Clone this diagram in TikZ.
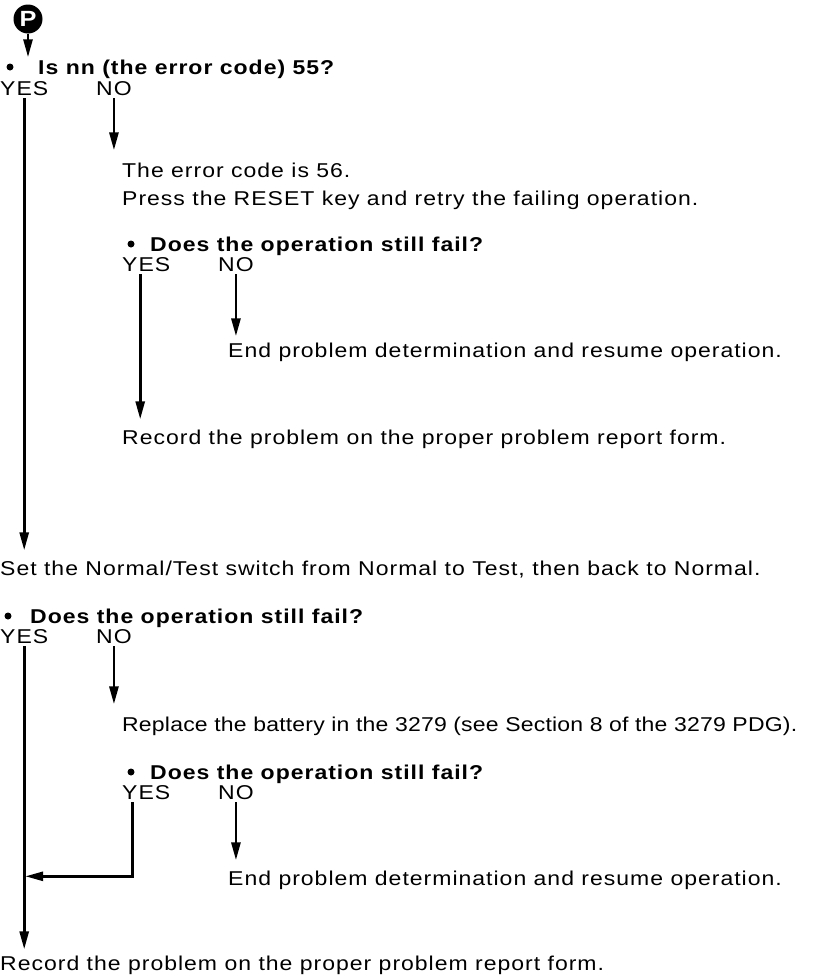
\documentclass[tikz,border=0pt]{standalone}
\usepackage{fontspec}
\setmainfont[FakeStretch=1.15,LetterSpace=5]{Liberation Sans}
\usepackage{tikz}
\usetikzlibrary{arrows.meta,positioning}

\begin{document}
\begin{tikzpicture}[
  x=1pt, y=-1pt,
  font=\fontsize{20}{24}\selectfont,
  txt/.style={anchor=base west, inner sep=0pt},
  ask/.style={txt, font=\fontsize{20}{24}\selectfont\bfseries},
  dot/.style={circle, fill=black, inner sep=0pt, minimum size=7pt},
  badge/.style={circle, fill=black, text=white, inner sep=0pt, minimum size=29pt, font=\fontsize{22}{22}\selectfont\bfseries},
  arr/.style={-{Triangle[length=18pt, width=9pt]}, line width=2.8pt},
]
\useasboundingbox (0,0) rectangle (816,977);

% entry point and first question
\node[badge] (pin) at (28,19) {P};
\node[dot] (d1) at (10,67) {};
\node[ask] (q1) at (38,74) {Is nn (the error code) 55?};
\node[txt] (yes1) at (0,95) {YES};
\node[txt] (no1)  at (96,95) {NO};

% NO branch: error code 56
\node[txt] (code56) at (122,177) {The error code is 56.};
\node[txt] (reset)  at (122,205) {Press the RESET key and retry the failing operation.};
\node[dot] (d2) at (131,244) {};
\node[ask] (q2) at (150,251) {Does the operation still fail?};
\node[txt] (yes2) at (122,271) {YES};
\node[txt] (no2)  at (218,271) {NO};
\node[txt] (end2) at (228,357) {End problem determination and resume operation.};
\node[txt] (rec2) at (122,444) {Record the problem on the proper problem report form.};

% switch test
\node[txt] (swtest) at (0,575) {Set the Normal/Test switch from Normal to Test, then back to Normal.};
\node[dot] (d3) at (8,616) {};
\node[ask] (q3) at (30,623) {Does the operation still fail?};
\node[txt] (yes3) at (0,643) {YES};
\node[txt] (no3)  at (96,643) {NO};

% battery
\node[txt, font=\fontsize{20}{24}\selectfont\addfontfeatures{LetterSpace=1}] (batt) at (122,731) {Replace the battery in the 3279 (see Section 8 of the 3279 PDG).};
\node[dot] (d4) at (131,772) {};
\node[ask] (q4) at (150,779) {Does the operation still fail?};
\node[txt] (yes4) at (122,799) {YES};
\node[txt] (no4)  at (218,799) {NO};
\node[txt] (end4) at (228,885) {End problem determination and resume operation.};
\node[txt] (rec4) at (0,970) {Record the problem on the proper problem report form.};

% ---- connectors ----
\draw[arr, shorten >=6pt] (pin.south) -- (pin.south |- d1.north);
\draw[arr, shorten <=3pt, shorten >=10pt] (yes1.south) -- (yes1.south |- swtest.north);
\draw[arr, shorten <=3pt, shorten >=12pt] (no1.south) -- (no1.south |- code56.north);
\draw[arr, shorten <=3pt, shorten >=10pt] ([xshift=-6pt]yes2.south) -- ([xshift=-6pt]yes2.south |- rec2.north);
\draw[arr, shorten <=3pt, shorten >=6pt] (no2.south) -- (no2.south |- end2.north);
\draw[arr, shorten <=3pt, shorten >=6pt] (yes3.south) -- (yes3.south |- rec4.north);
\draw[arr, shorten <=3pt, shorten >=12pt] (no3.south) -- (no3.south |- batt.north);
\draw[arr, shorten <=3pt, shorten >=1pt] ([xshift=-14pt]yes4.south) |- ([yshift=-6pt]yes3.south |- end4.north);
\draw[arr, shorten <=3pt, shorten >=10pt] (no4.south) -- (no4.south |- end4.north);
\end{tikzpicture}
\end{document}
